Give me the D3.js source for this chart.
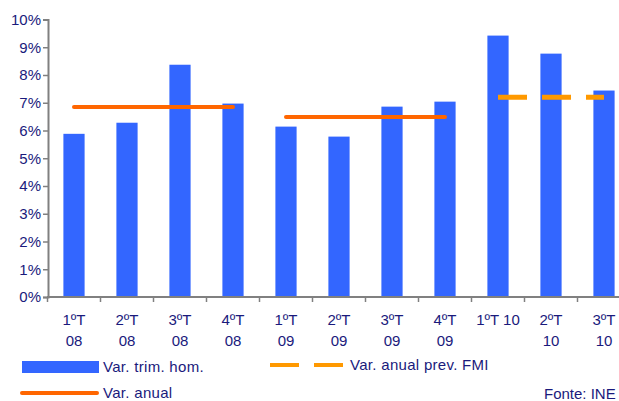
<!DOCTYPE html>
<html>
<head>
<meta charset="utf-8">
<script src="https://cdn.jsdelivr.net/npm/d3@7"></script>
<style>
  html, body { margin: 0; padding: 0; background: #fff; }
  svg { display: block; font-family: "Liberation Sans", Arial, sans-serif; }
</style>
</head>
<body>
<svg id="chart" width="619" height="401"></svg>
<script>
// Quarterly year-on-year change (%)
const quarters = ["1ºT\n08", "2ºT\n08", "3ºT\n08", "4ºT\n08",
                  "1ºT\n09", "2ºT\n09", "3ºT\n09", "4ºT\n09",
                  "1ºT 10", "2ºT\n10", "3ºT\n10"];
const quarterlyChange = [5.88, 6.28, 8.37, 6.97, 6.14, 5.78, 6.86, 7.04, 9.42, 8.77, 7.44];

// Annual change, drawn across the quarters of each year
const annualStart = [0, 4];
const annualEnd = [3, 7];
const annualChange = [6.85, 6.49];

// IMF annual forecast
const imfStart = [8];
const imfEnd = [10];
const imfForecast = [7.2];

const yTicks = [0, 1, 2, 3, 4, 5, 6, 7, 8, 9, 10];

const BLUE = "#3366ff", ORANGE = "#ff6600", AMBER = "#ff9900";
const TEXT = "#1a1a7c", AXIS = "#808080";

const svg = d3.select("#chart");

const x = d3.scaleBand().domain(quarters).range([47.5, 630.5]).padding(0);
const y = d3.scaleLinear().domain([0, 10]).range([297, 19.5]);
const barW = x.bandwidth() * 0.4;
const cx = q => x(q) + x.bandwidth() / 2;

// Bars
svg.append("g").selectAll("rect")
  .data(quarterlyChange)
  .join("rect")
  .attr("x", (d, i) => cx(quarters[i]) - barW / 2)
  .attr("y", d => y(d))
  .attr("width", barW)
  .attr("height", d => y(0) - y(d))
  .attr("fill", BLUE);

// Annual lines
svg.append("g").selectAll("line")
  .data(annualChange)
  .join("line")
  .attr("x1", (d, i) => cx(quarters[annualStart[i]]))
  .attr("x2", (d, i) => cx(quarters[annualEnd[i]]))
  .attr("y1", d => y(d))
  .attr("y2", d => y(d))
  .attr("stroke", ORANGE)
  .attr("stroke-width", 4)
  .attr("stroke-linecap", "round");

// IMF forecast (dashed)
svg.append("g").selectAll("line")
  .data(imfForecast)
  .join("line")
  .attr("x1", (d, i) => cx(quarters[imfStart[i]]))
  .attr("x2", (d, i) => cx(quarters[imfEnd[i]]))
  .attr("y1", d => y(d))
  .attr("y2", d => y(d))
  .attr("stroke", AMBER)
  .attr("stroke-width", 5)
  .attr("stroke-dasharray", "29,15");

// Y axis
const yAxis = svg.append("g")
  .attr("transform", "translate(48,0)")
  .call(d3.axisLeft(y).tickValues(yTicks).tickFormat(d => d + "%").tickSize(5).tickPadding(2));
yAxis.select(".domain").attr("stroke", AXIS).attr("stroke-width", 2);
yAxis.selectAll(".tick line").attr("stroke", AXIS).attr("stroke-width", 1.5);
yAxis.selectAll(".tick text")
  .attr("fill", TEXT).attr("font-size", 15).attr("font-family", "Liberation Sans, Arial, sans-serif");

// X axis: line with ticks at category boundaries
const xAxis = svg.append("g");
xAxis.append("line")
  .attr("x1", 47).attr("x2", 619)
  .attr("y1", y(0)).attr("y2", y(0))
  .attr("stroke", AXIS).attr("stroke-width", 2);
xAxis.selectAll("line.tick")
  .data(quarters)
  .join("line")
  .attr("class", "tick")
  .attr("x1", q => x(q)).attr("x2", q => x(q))
  .attr("y1", y(0)).attr("y2", y(0) + 5)
  .attr("stroke", AXIS).attr("stroke-width", 1.5);

const labels = xAxis.selectAll("text")
  .data(quarters)
  .join("text")
  .attr("text-anchor", "middle")
  .attr("fill", TEXT)
  .attr("font-size", 15);
labels.each(function (q) {
  const parts = q.split("\n");
  d3.select(this).selectAll("tspan")
    .data(parts)
    .join("tspan")
    .attr("x", cx(q))
    .attr("y", (p, j) => 325 + j * 21)
    .text(p => p);
});

// Legend
const legend = svg.append("g").attr("fill", TEXT).attr("font-size", 15);
legend.append("rect").attr("x", 22).attr("y", 361).attr("width", 77).attr("height", 12).attr("fill", BLUE);
legend.append("text").attr("x", 103).attr("y", 372).attr("letter-spacing", 0.3).text("Var. trim. hom.");

legend.append("line")
  .attr("x1", 270).attr("x2", 343).attr("y1", 365).attr("y2", 365)
  .attr("stroke", AMBER).attr("stroke-width", 4).attr("stroke-dasharray", "29,15");
legend.append("text").attr("x", 350).attr("y", 370).attr("letter-spacing", 0.3).text("Var. anual prev. FMI");

legend.append("line")
  .attr("x1", 22).attr("x2", 97).attr("y1", 393).attr("y2", 393)
  .attr("stroke", ORANGE).attr("stroke-width", 4).attr("stroke-linecap", "round");
legend.append("text").attr("x", 103).attr("y", 398).attr("letter-spacing", 0.3).text("Var. anual");

// Source note
legend.append("text").attr("x", 544).attr("y", 399).text("Fonte: INE");
</script>
</body>
</html>
